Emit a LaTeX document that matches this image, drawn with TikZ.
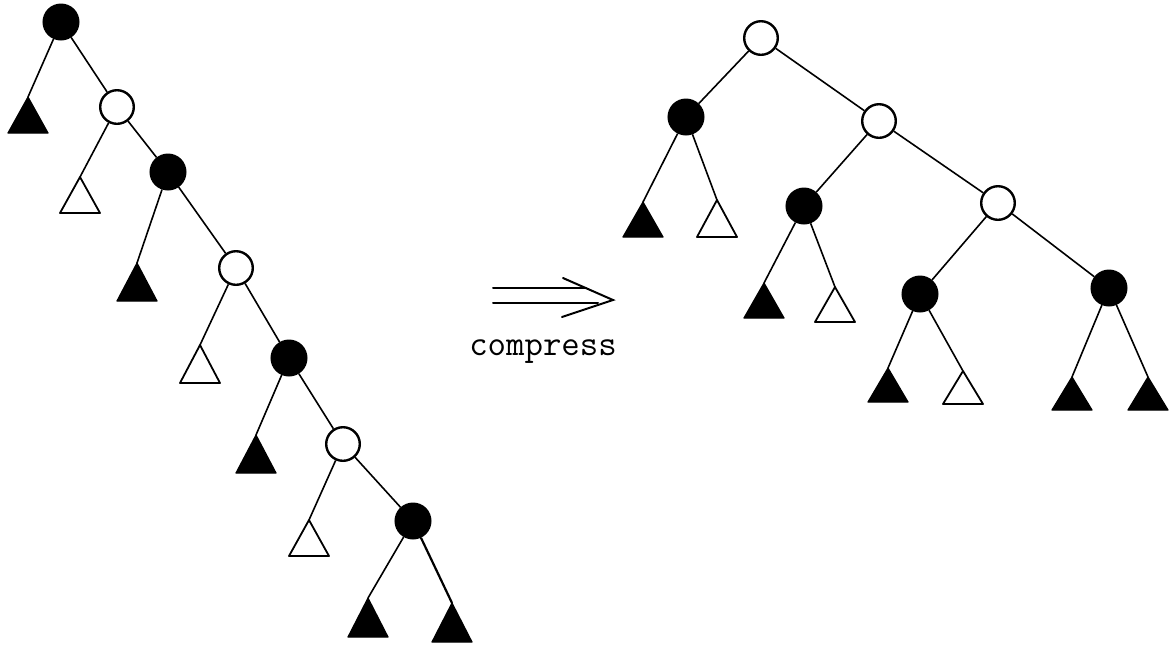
\documentclass[tikz,border=0pt]{standalone}
\usetikzlibrary{calc}

% a subtree drawn as a triangle hanging from its apex coordinate
% #1 name of apex, #2 x, #3 y, #4 height, #5 style
\newcommand\subtree[5]{%
  \coordinate (#1) at (#2,#3);
  \path[#5] (#1) -- ++(-20,#4) -- ++(40,0) -- cycle;
}

\tikzset{
  blk/.style={circle, draw=black, fill=black, line width=1pt, minimum size=17.5pt, inner sep=0pt},
  wht/.style={circle, draw=black, fill=white, line width=1.2pt, minimum size=16.8pt, inner sep=0pt},
  btri/.style={fill=black, draw=black, line width=0.6pt, line join=round},
  wtri/.style={fill=white, draw=black, line width=0.9pt, line join=round},
  edge/.style={draw=black, line width=0.8pt},
  arr/.style={draw=black, line width=1pt, line cap=round},
}

\begin{document}
\begin{tikzpicture}[x=0.5pt, y=-0.5pt]
\useasboundingbox (0,0) rectangle (1175,645);

% ---------- left tree: a long right spine ----------
\node[blk] (l0) at (61,22) {};
\node[wht] (l1) at (117,107) {};
\node[blk] (l2) at (168,172) {};
\node[wht] (l3) at (236,268) {};
\node[blk] (l4) at (289,358) {};
\node[wht] (l5) at (343,444) {};
\node[blk] (l6) at (413,521) {};

\subtree{a0}{28}{97}{36}{btri}
\subtree{a1}{80}{177}{36}{wtri}
\subtree{a2}{137}{263}{38}{btri}
\subtree{a3}{200}{345}{38}{wtri}
\subtree{a4}{256}{435}{38}{btri}
\subtree{a5}{309}{520}{36}{wtri}
\subtree{a6}{368}{598}{39}{btri}
\subtree{a7}{452}{603}{39}{btri}

\draw[edge] (l0) -- (a0);
\draw[edge] (l0) -- (l1);
\draw[edge] (l1) -- (a1);
\draw[edge] (l1) -- (l2);
\draw[edge] (l2) -- (a2);
\draw[edge] (l2) -- (l3);
\draw[edge] (l3) -- (a3);
\draw[edge] (l3) -- (l4);
\draw[edge] (l4) -- (a4);
\draw[edge] (l4) -- (l5);
\draw[edge] (l5) -- (a5);
\draw[edge] (l5) -- (l6);
\draw[edge] (l6) -- (a6);
\draw[edge, line width=1.1pt] (l6) -- (a7);

% ---------- compress arrow ----------
\coordinate (tip) at (613,300);
\coordinate (w1) at (563,278);
\coordinate (w2) at (562,317);
\coordinate (s1) at (493,288);
\coordinate (s2) at (493,303);
\draw[arr] (w1) -- (tip) -- (w2);
\draw[arr] (s1) -- (586,288);
\draw[arr] (s2) -- (598,303);
\node[anchor=base, inner sep=0pt, font=\ttfamily\fontsize{17.9}{20}\selectfont] (lbl) at (543,355) {compress};

% ---------- right tree: balanced result ----------
\node[wht] (r0) at (761,38) {};
\node[blk] (r1) at (686,117) {};
\node[wht] (r2) at (879,121) {};
\node[blk] (r3) at (804,206) {};
\node[wht] (r4) at (998,203) {};
\node[blk] (r5) at (920,294) {};
\node[blk] (r6) at (1109,288) {};

\subtree{b0}{643}{202}{35}{btri}
\subtree{b1}{717}{200}{37}{wtri}
\subtree{b2}{764}{283}{35}{btri}
\subtree{b3}{835}{287}{35}{wtri}
\subtree{b4}{888}{368}{34}{btri}
\subtree{b5}{963}{371}{33}{wtri}
\subtree{b6}{1072}{377}{33}{btri}
\subtree{b7}{1148}{377}{33}{btri}

\draw[edge] (r0) -- (r1);
\draw[edge] (r0) -- (r2);
\draw[edge] (r1) -- (b0);
\draw[edge] (r1) -- (b1);
\draw[edge] (r2) -- (r3);
\draw[edge] (r2) -- (r4);
\draw[edge] (r3) -- (b2);
\draw[edge] (r3) -- (b3);
\draw[edge] (r4) -- (r5);
\draw[edge] (r4) -- (r6);
\draw[edge] (r5) -- (b4);
\draw[edge] (r5) -- (b5);
\draw[edge] (r6) -- (b6);
\draw[edge] (r6) -- (b7);
\end{tikzpicture}
\end{document}
